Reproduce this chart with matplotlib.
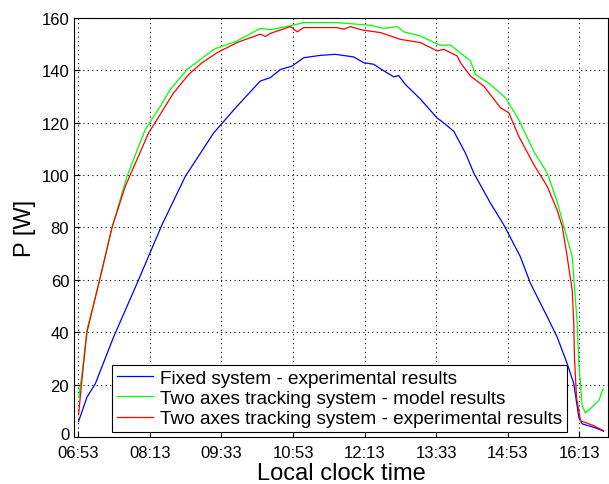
import matplotlib
matplotlib.use('Agg')
import matplotlib.pyplot as plt
from matplotlib.transforms import ScaledTranslation

plt.rcParams['font.family'] = ['Liberation Sans', 'DejaVu Sans']

# minutes after 06:53
t_fixed = [0.4, 9.7, 19, 39.5, 65.6, 93.5, 119.6, 151.3, 177.4, 203.4, 214.6, 225.8, 238.9, 251.9,
           270.5, 287.3, 307.7, 318.9, 330.1, 337.6, 352.5, 358, 365.5, 382.3, 400.9, 408.4, 419.6,
           432.6, 441.9, 460.5, 475.4, 494, 505.3, 524, 535, 546.3, 553.7, 559.3, 563, 576, 587]
p_fixed = [6, 15.2, 20.3, 38.2, 58.6, 81, 99.5, 116.1, 126.3, 135.9, 137.2, 140.3, 141.6, 144.8,
           145.7, 146.1, 145.1, 142.9, 142.3, 140.6, 137.5, 138, 134.6, 129, 121.8, 119.9, 116.7,
           108.4, 100.8, 89.3, 81, 68.8, 58.6, 45.9, 38.2, 28, 20.3, 7.5, 5, 3.7, 2.2]

t_model = [0.4, 4.1, 9.7, 24.6, 37.7, 54.4, 74.9, 91.7, 102.8, 121.5, 151.3, 177.4, 203.4, 214.6,
           237, 251.9, 289, 311.5, 326.4, 341.3, 356.2, 363.6, 382.3, 404.6, 415.8, 438.2, 443.8,
           460.5, 477.3, 492.2, 509, 524, 535, 542.5, 551.9, 557.5, 559.3, 561.2, 563, 566.7, 576,
           581.6, 586.5]
p_model = [15, 24, 41, 61, 80, 99.5, 117.4, 126.3, 132.7, 140.3, 148, 151.2, 156, 155.5,
           157, 158.2, 158.2, 157.6, 157.2, 156, 156.7, 154.7, 153.1, 149.5, 149.7, 143.6, 138.4,
           134.6, 129.5, 121.2, 109, 100.8, 89.9, 80.5, 68.8, 43.3, 28, 20.3, 12, 9.1, 12,
           13.9, 18.4]

t_exp = [0.4, 4.1, 9.7, 24.6, 37.7, 52.5, 78.6, 88, 106.5, 123.3, 138.3, 155, 177.4, 203.4, 209,
         214.6, 237, 244.5, 251.9, 289, 296.6, 304, 317, 337.6, 360, 382.3, 400.9, 408.4, 423.3,
         427, 438.2, 453, 471.7, 481, 492.2, 509, 524, 535, 540.7, 546.3, 551.9, 553.7, 554.4,
         556.7, 561.2, 576, 587]
p_exp = [8.8, 22, 40, 61, 80, 95.7, 116.1, 121.2, 131.4, 138.4, 142.9, 146.7, 150.6, 153.8, 152.9,
         154.1, 156.7, 154.7, 156.3, 156.3, 155.7, 156.7, 155.4, 154.4, 151.8, 150.6, 147.4, 148, 145.5,
         142.9, 137.8, 134, 125.7, 123.8, 114.8, 104, 95.7, 86.7, 80.5, 68.8, 56, 43.3, 30.5,
         15.2, 6.2, 4.3, 2.4]

tick_min = [0, 80, 160, 240, 320, 400, 480, 560]
tick_labels = ['06:53', '08:13', '09:33', '10:53', '12:13', '13:33', '14:53', '16:13']

fig = plt.figure(figsize=(6.09, 4.85), dpi=100)
ax = fig.add_axes([0.1215, 0.097, 0.877, 0.864])

ax.plot(t_fixed, p_fixed, color='#0000ff', linewidth=0.9, label='Fixed system - experimental results')
ax.plot(t_model, p_model, color='#00ff00', linewidth=0.9, label='Two axes tracking system - model results')
ax.plot(t_exp, p_exp, color='#ff0000', linewidth=0.9, label='Two axes tracking system - experimental results')

ax.set_xlim(-4.8, 592)
ax.set_ylim(0, 160)
ax.set_xticks(tick_min)
ax.set_xticklabels(tick_labels)
ax.set_yticks(range(0, 161, 20))
ax.tick_params(direction='in', labelsize=12, length=4)
ax.tick_params(axis='x', pad=6)
ax.grid(True, color='black', linestyle=(0, (1, 3)), linewidth=0.8)

# nudge the "0" label up a little so it clears the first time label
lbl0 = ax.get_yticklabels()[0]
lbl0.set_transform(lbl0.get_transform() + ScaledTranslation(0, 3 / 72, fig.dpi_scale_trans))

ax.set_xlabel('Local clock time', fontsize=17, labelpad=1)
ax.set_ylabel('P [W]', fontsize=17)

leg = ax.legend(loc='lower left', bbox_to_anchor=(0.071, 0.012), borderaxespad=0,
                fontsize=13.7, fancybox=False, edgecolor='black', framealpha=1,
                handlelength=1.9, handletextpad=0.4, labelspacing=0.15, borderpad=0.25)
leg.get_frame().set_linewidth(0.8)

fig.savefig('out.png', dpi=100)
